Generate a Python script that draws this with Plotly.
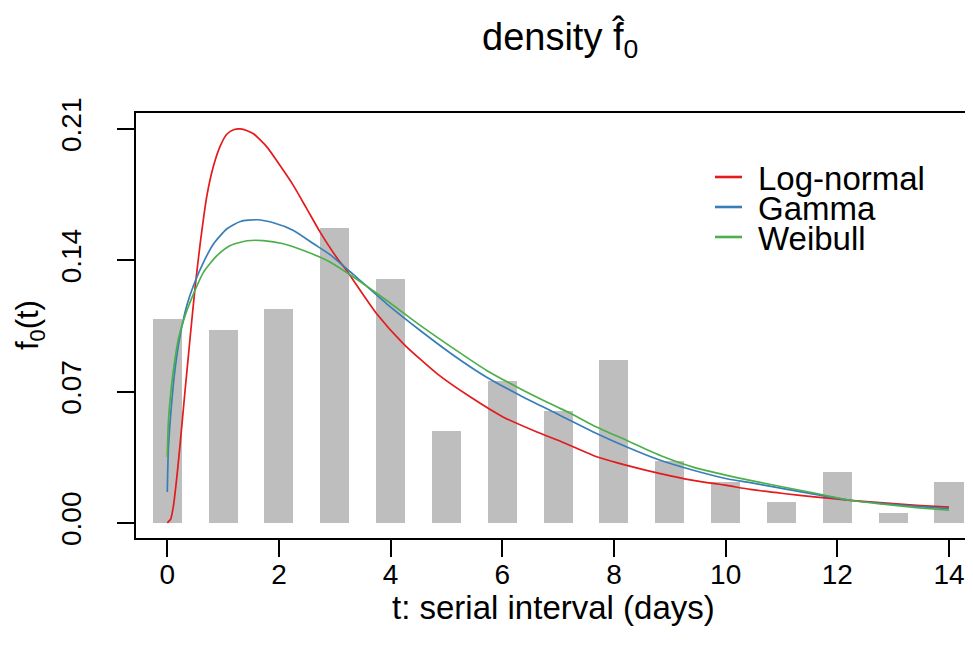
import plotly.graph_objects as go

# ---------------- data ----------------
days = list(range(15))
observed_density = [0.1085, 0.1031, 0.1138, 0.1574, 0.1301, 0.0488, 0.0758, 0.0595,
                    0.0870, 0.0329, 0.0217, 0.0110, 0.0270, 0.0053, 0.0217]

lognormal_t = [0.0, 0.06, 0.11, 0.17, 0.23, 0.32, 0.41, 0.50, 0.59, 0.71, 0.83, 0.95,
               1.07, 1.20, 1.31, 1.42, 1.55, 1.79, 2.02, 2.26, 2.50, 2.74, 3.07, 3.19,
               3.75, 4.23, 4.83, 5.43, 6.02, 6.62, 7.10, 7.63, 8.23, 8.83, 9.42, 10.02,
               10.44, 11.03, 11.63, 12.23, 12.82, 13.42, 14.0]
lognormal_f = [0.0, 0.002, 0.009, 0.024, 0.042, 0.071, 0.099, 0.126, 0.149, 0.1745, 0.1905, 0.201,
               0.2073, 0.2097, 0.2100, 0.2092, 0.2073, 0.2002, 0.1905, 0.1798, 0.1674, 0.1549, 0.1400, 0.1355,
               0.1115, 0.0955, 0.0796, 0.0671, 0.0564, 0.0485, 0.0428, 0.0360, 0.0307, 0.0263, 0.0227, 0.0200,
               0.0179, 0.0157, 0.0138, 0.0121, 0.0107, 0.0094, 0.0085]

gamma_t = [0.0, 0.02, 0.07, 0.14, 0.23, 0.35, 0.47, 0.65, 0.83, 1.07, 1.31, 1.61, 1.90,
           2.26, 2.62, 2.92, 3.34, 3.93, 4.53, 5.13, 5.72, 6.32, 6.92, 7.21, 7.63, 8.23,
           8.83, 9.42, 10.02, 10.44, 11.03, 11.63, 12.23, 12.82, 13.42, 14.0]
gamma_f = [0.0165, 0.0396, 0.0609, 0.0822, 0.0999, 0.1159, 0.1266, 0.1390, 0.1488, 0.1568, 0.1607, 0.1616, 0.1600,
           0.1559, 0.1488, 0.1429, 0.1322, 0.1168, 0.1026, 0.0893, 0.0777, 0.0680, 0.0591, 0.0547, 0.0485, 0.0405,
           0.0334, 0.0281, 0.0236, 0.0215, 0.0183, 0.0151, 0.0121, 0.0103, 0.0089, 0.0077]

weibull_t = [0.0, 0.02, 0.07, 0.13, 0.20, 0.32, 0.47, 0.65, 0.89, 1.13, 1.43, 1.72, 2.08,
             2.44, 2.74, 2.92, 3.34, 3.93, 4.53, 5.13, 5.72, 6.32, 6.92, 7.21, 7.63, 8.23,
             8.83, 9.42, 10.02, 10.44, 11.03, 11.63, 12.23, 12.82, 13.42, 14.0]
weibull_f = [0.0351, 0.0538, 0.0716, 0.0857, 0.0982, 0.1106, 0.1221, 0.1337, 0.1425, 0.1479, 0.1504, 0.1505, 0.1488,
             0.1452, 0.1416, 0.1390, 0.1310, 0.1186, 0.1053, 0.0929, 0.0813, 0.0716, 0.0627, 0.0586, 0.0520, 0.0440,
             0.0360, 0.0298, 0.0254, 0.0227, 0.0192, 0.0157, 0.0121, 0.0100, 0.0082, 0.0068]

series_names = ["Log-normal", "Gamma", "Weibull"]
series_colors = ["#E41A1C", "#377EB8", "#4DAF4A"]

x_tick_vals = [0, 2, 4, 6, 8, 10, 12, 14]
y_tick_vals = [0.00, 0.07, 0.14, 0.21]
y_tick_text = ["0.00", "0.07", "0.14", "0.21"]

FONT = "Liberation Sans, Arial, Helvetica, sans-serif"

# ---------------- geometry (page pixels; page body has an 8px offset) ----------------
W, H = 973, 661
OFF = 8
PLOT_L, PLOT_R, PLOT_T, PLOT_B = 136, 973, 113, 538   # in page pixels
ML = PLOT_L - OFF
MR = W - (PLOT_R - OFF)
MT = PLOT_T - OFF
MB = H - (PLOT_B - OFF)
pw, ph = PLOT_R - PLOT_L, PLOT_B - PLOT_T

def px2paper_x(px):
    return (px - PLOT_L) / pw

def py2paper_y(py):
    return (PLOT_B - py) / ph

# ---------------- figure ----------------
fig = go.Figure()
fig.add_trace(go.Bar(x=days, y=observed_density, width=0.52,
                     marker=dict(color="#BEBEBE", line=dict(width=0)),
                     showlegend=False, hoverinfo="x+y"))

curves = [(lognormal_t, lognormal_f), (gamma_t, gamma_f), (weibull_t, weibull_f)]
for (tt, ff), name, col in zip(curves, series_names, series_colors):
    fig.add_trace(go.Scatter(x=tt, y=ff, mode="lines", name=name,
                             line=dict(color=col, width=1.7, shape="spline", smoothing=0.6),
                             showlegend=False))

# manual legend (R style, tight rows)
legend_rows_py = [177, 207, 237]
for name, col, py in zip(series_names, series_colors, legend_rows_py):
    fig.add_shape(type="line", xref="paper", yref="paper",
                  x0=px2paper_x(715), x1=px2paper_x(742),
                  y0=py2paper_y(py), y1=py2paper_y(py),
                  line=dict(color=col, width=2.6))
    fig.add_annotation(text=name, xref="paper", yref="paper",
                       x=px2paper_x(756), y=py2paper_y(py + 1),
                       xanchor="left", yanchor="middle", showarrow=False,
                       font=dict(family=FONT, size=33, color="black"))

# title: density f-hat_0 (combining circumflex over f)
fig.add_annotation(text="density f\u0302<sub>0</sub>", xref="paper", yref="paper",
                   x=px2paper_x(560), y=py2paper_y(39), xanchor="center", yanchor="middle",
                   showarrow=False, font=dict(family=FONT, size=38, color="black"))

# axis titles
fig.add_annotation(text="t: serial interval (days)", xref="paper", yref="paper",
                   x=px2paper_x(553), y=py2paper_y(607), xanchor="center", yanchor="middle",
                   showarrow=False, font=dict(family=FONT, size=33, color="black"))
fig.add_annotation(text="f<sub>0</sub>(t)", xref="paper", yref="paper",
                   x=px2paper_x(30), y=py2paper_y(325), xanchor="center", yanchor="middle",
                   textangle=-90, showarrow=False, font=dict(family=FONT, size=31, color="black"))

fig.update_layout(
    width=W, height=H,
    margin=dict(l=ML, r=MR, t=MT, b=MB, pad=0),
    paper_bgcolor="white", plot_bgcolor="white",
    font=dict(family=FONT, color="black"),
    showlegend=False,
    bargap=0,
)
fig.update_xaxes(range=[-0.56, 14.43], tickvals=x_tick_vals, ticks="outside", ticklen=17,
                 tickwidth=1.5, tickcolor="black", showline=True, linecolor="black", linewidth=1.5,
                 mirror=True, showgrid=False, zeroline=False, ticklabelstandoff=-6,
                 tickfont=dict(family=FONT, size=28, color="black"))
fig.update_yaxes(range=[-0.008, 0.2185], tickvals=y_tick_vals, ticktext=y_tick_text,
                 ticks="outside", ticklen=17, tickwidth=1.5, tickcolor="black",
                 showline=True, linecolor="black", linewidth=1.5, mirror=False,
                 showgrid=False, zeroline=False, tickangle=-90, ticklabelstandoff=25,
                 tickfont=dict(family=FONT, size=28, color="black"))

fig.write_html("out.html")
